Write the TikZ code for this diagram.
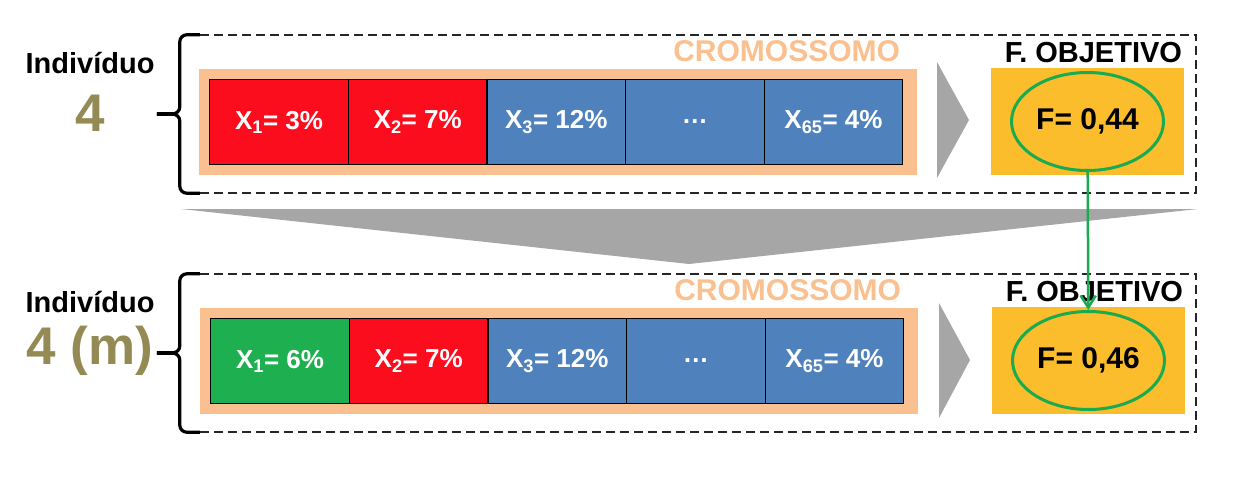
\documentclass[tikz,border=0pt]{standalone}
\usepackage{fontspec}
\setmainfont{Liberation Sans}
\usetikzlibrary{shapes.geometric, arrows.meta, positioning}

\definecolor{genered}{RGB}{252,13,30}
\definecolor{geneblue}{RGB}{79,129,189}
\definecolor{genegreen}{RGB}{30,176,80}
\definecolor{peach}{RGB}{250,192,143}
\definecolor{fitorange}{RGB}{251,189,44}
\definecolor{olive}{RGB}{148,138,84}
\definecolor{ringgreen}{RGB}{26,170,80}
\definecolor{arrowgray}{RGB}{166,166,166}

\begin{document}
\begin{tikzpicture}[
    x=1pt, y=-1pt,
    frame/.style={rectangle, minimum width=996pt, minimum height=158pt, inner sep=0pt},
    dashline/.style={draw=black!85, line width=1.8pt, dash pattern=on 9pt off 5pt},
    bracket/.style={line width=3.2pt, rounded corners=7pt},
    chromobox/.style={rectangle, fill=peach, minimum width=718pt, minimum height=106pt, inner sep=0pt},
    gene/.style={rectangle, draw, line width=1.3pt, text=white, minimum width=138.6pt, minimum height=85pt, inner sep=0pt, outer sep=0pt, font=\fontsize{26}{30}\selectfont\bfseries},
    fitbox/.style={rectangle, fill=fitorange, minimum width=193pt, minimum height=107pt, inner sep=0pt},
    ring/.style={ellipse, draw=ringgreen, line width=3pt, minimum width=152pt, minimum height=98pt, inner sep=0pt, font=\fontsize{30}{34}\selectfont\bfseries},
    tag/.style={inner sep=0pt, font=\fontsize{29}{34}\selectfont\bfseries},
    indnum/.style={inner sep=0pt, text=olive, font=\fontsize{53}{60}\selectfont\bfseries},
    link/.style={-{Straight Barb[length=12pt, width=15pt, line width=2.5pt]}, draw=ringgreen, line width=2.5pt}
]
    \useasboundingbox (0,0) rectangle (1236,482);

    % individuo 4
    \node[frame] (ind4) at (698,114) {};
    \draw[dashline] (ind4.north west) -- (ind4.north east) -- (ind4.south east) -- (ind4.south west);
    \draw[bracket] (ind4.north west) -- ++(-20,0) -- ++(0,79) -- ++(-23,0);
    \draw[bracket] (ind4.south west) -- ++(-20,0) -- ++(0,-79) -- ++(-23,0);
    \node[tag] (lbl4) at (90,63) {Indivíduo};
    \node[indnum] (num4) at (90,113) {4};

    \node[chromobox] (chr4) at (558,122) {};
    \node[tag, text=peach, font=\fontsize{30}{34}\selectfont\bfseries, above left=7pt and 17pt of chr4.north east] (cro4) {CROMOSSOMO};
    \node[gene, fill=genered, right=11pt of chr4.west] (a1) {X\textsubscript{1}= 3\%};
    \node[gene, fill=genered, right=0pt of a1] (a2) {X\textsubscript{2}= 7\%};
    \node[gene, fill=geneblue, right=0pt of a2] (a3) {X\textsubscript{3}= 12\%};
    \node[gene, fill=geneblue, right=0pt of a3] (a4) {\dots};
    \node[gene, fill=geneblue, right=0pt of a4] (a5) {X\textsubscript{65}= 4\%};

    \fill[arrowgray] (937,62) -- (969,120) -- (937,178) -- cycle;
    \node[fitbox] (obj4) at (1087.5,121.5) {};
    \node[tag, above left=5pt and 2pt of obj4.north east] (fo4) {F. OBJETIVO};
    \node[ring] (f44) at (obj4.center) {F= 0,44};

    % passagem
    \fill[arrowgray] (181,209) -- (1198,209) -- (689,264) -- cycle;

    % individuo 4 (m)
    \node[frame] (ind4m) at (698,353) {};
    \draw[dashline] (ind4m.north west) -- (ind4m.north east) -- (ind4m.south east) -- (ind4m.south west);
    \draw[bracket] (ind4m.north west) -- ++(-20,0) -- ++(0,79) -- ++(-23,0);
    \draw[bracket] (ind4m.south west) -- ++(-20,0) -- ++(0,-79) -- ++(-23,0);
    \node[tag] (lbl4m) at (90,302) {Indivíduo};
    \node[indnum] (num4m) at (90,351) {4 (m)};

    \node[chromobox] (chr4m) at (559,361) {};
    \node[tag, text=peach, font=\fontsize{30}{34}\selectfont\bfseries, above left=7pt and 17pt of chr4m.north east] (cro4m) {CROMOSSOMO};
    \node[gene, fill=genegreen, right=11pt of chr4m.west] (b1) {X\textsubscript{1}= 6\%};
    \node[gene, fill=genered, right=0pt of b1] (b2) {X\textsubscript{2}= 7\%};
    \node[gene, fill=geneblue, right=0pt of b2] (b3) {X\textsubscript{3}= 12\%};
    \node[gene, fill=geneblue, right=0pt of b3] (b4) {\dots};
    \node[gene, fill=geneblue, right=0pt of b4] (b5) {X\textsubscript{65}= 4\%};

    \fill[arrowgray] (939,303) -- (970,360) -- (939,418) -- cycle;
    \node[fitbox] (obj4m) at (1088.5,360.5) {};
    \node[tag, above left=5pt and 2pt of obj4m.north east] (fo4m) {F. OBJETIVO};
    \node[ring] (f46) at (obj4m.center) {F= 0,46};

    \draw[link] (f44) -- (f46);
\end{tikzpicture}
\end{document}
